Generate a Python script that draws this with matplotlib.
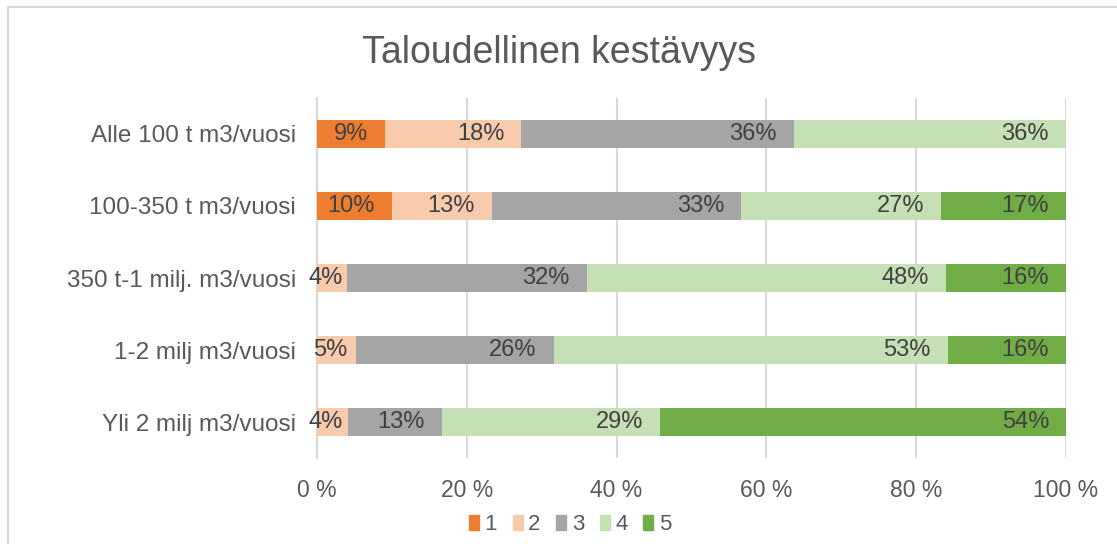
import matplotlib
matplotlib.use("Agg")
import matplotlib.pyplot as plt
from matplotlib.lines import Line2D
from matplotlib.patches import Patch
import numpy as np

plt.rcParams['font.family'] = ['Liberation Sans', 'DejaVu Sans']

title = "Taloudellinen kestävyys"
categories = ["Alle 100 t m3/vuosi", "100-350 t m3/vuosi", "350 t-1 milj. m3/vuosi",
              "1-2 milj m3/vuosi", "Yli 2 milj m3/vuosi"]
series_names = ["1", "2", "3", "4", "5"]
# response counts per category (share shown as 100% stacked)
s1 = [1, 3, 0, 0, 0]
s2 = [2, 4, 1, 1, 1]
s3 = [4, 10, 8, 5, 3]
s4 = [4, 8, 12, 10, 7]
s5 = [0, 5, 4, 3, 13]
colors = ["#ED7D31", "#F8CBAD", "#A5A5A5", "#C5E0B4", "#70AD47"]
xticks = [0, 20, 40, 60, 80, 100]
xticklabels = ["0 %", "20 %", "40 %", "60 %", "80 %", "100 %"]

W, H = 1117, 544
fig = plt.figure(figsize=(W / 100, H / 100), dpi=100)
ax = fig.add_axes([317 / W, 1 - 458 / H, (1066 - 317) / W, (458 - 98) / H])
ax.set_xlim(0, 100)
ax.set_ylim(len(categories) - 0.5, -0.5)

data = np.array([s1, s2, s3, s4, s5], dtype=float)
pct = data / data.sum(axis=0) * 100
y = np.arange(len(categories))
left = np.zeros(len(categories))
handles = []
renderer = fig.canvas.get_renderer()
ax_w_px = (1066 - 317)
PAD_L, PAD_R = 4, 17
for i, name in enumerate(series_names):
    vals = pct[i]
    ax.barh(y, vals, left=left, height=0.4, color=colors[i], zorder=3)
    for yy, v, l in zip(y, vals, left):
        if v > 0:
            t = ax.annotate(f"{int(v + 0.5)}%", xy=(l + v, yy), xytext=(-PAD_R, 0),
                            textcoords='offset pixels', ha='right', va='center',
                            fontsize=17, color="#404040", zorder=4,
                            annotation_clip=False)
            tw = t.get_window_extent(renderer).width
            seg_px = v / 100 * ax_w_px
            if tw + PAD_L + PAD_R > seg_px:
                # label box does not fit: centre the box on the segment
                t.set_ha('center')
                t.xy = (l + v / 2, yy)
                t.set_position((-(PAD_R - PAD_L) / 2, 0))
    left = left + vals
    handles.append(Patch(facecolor=colors[i], edgecolor=colors[i]))

ax.set_xlim(0, 100)
ax.set_ylim(len(categories) - 0.5, -0.5)
ax.set_yticks(y)
ax.set_yticklabels(categories, fontsize=17.5, color="#595959")
ax.set_xticks(xticks)
ax.set_xticklabels(xticklabels, fontsize=16.5, color="#595959")
ax.tick_params(axis='both', length=0)
ax.tick_params(axis='x', pad=15)
ax.tick_params(axis='y', pad=15)
ax.grid(axis='x', color="#D9D9D9", linewidth=1.5, zorder=0)
for s in ['top', 'right', 'bottom']:
    ax.spines[s].set_visible(False)
ax.spines['left'].set_color("#D9D9D9")
ax.spines['left'].set_linewidth(1.5)

fig.text(0.5, 1 - 53 / H, title, ha='center', va='center', fontsize=27, color="#595959")

fig.legend(handles, series_names, loc='center', bbox_to_anchor=(570 / W, 1 - 525 / H),
           ncol=5, frameon=False, fontsize=16, handlelength=0.45, handleheight=0.65,
           handletextpad=0.25, columnspacing=0.7, labelcolor="#595959")

# chart frame (partially cropped)
fig.add_artist(Line2D([8 / W, 8 / W], [0, 1 - 7 / H], transform=fig.transFigure,
                      color="#D9D9D9", linewidth=1.5))
fig.add_artist(Line2D([8 / W, 1], [1 - 7 / H, 1 - 7 / H], transform=fig.transFigure,
                      color="#D9D9D9", linewidth=1.5))

fig.savefig("out.png", dpi=100)
